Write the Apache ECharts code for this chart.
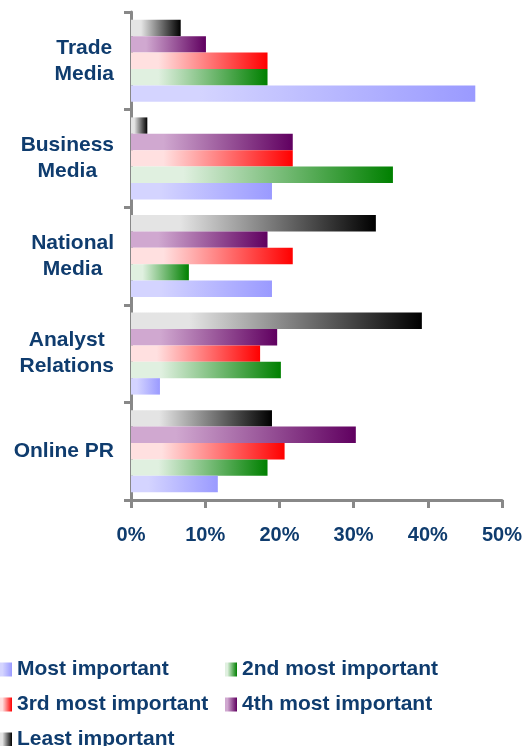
<!DOCTYPE html>
<html lang="en">
<head>
	<meta charset="UTF-8">
	<title>Media importance</title>
	<script src="https://cdn.jsdelivr.net/npm/echarts@6/dist/echarts.min.js"></script>
	<style>
		html, body { margin: 0; padding: 0; background: #fff; }
		#chart { width: 531px; height: 746px; }
	</style>
</head>
<body>
	<div id="chart"></div>
<script>
    // categories, top to bottom
    var categories = ['Trade\nMedia', 'Business\nMedia', 'National\nMedia', 'Analyst\nRelations', 'Online PR'];
    var seriesNames = ['Most important', '2nd most important', '3rd most important', '4th most important', 'Least important'];
    // values in %
    var mostImportant = [46.4, 19.0, 19.0, 3.9, 11.7];
    var secondImportant = [18.4, 35.3, 7.8, 20.2, 18.4];
    var thirdImportant = [18.4, 21.8, 21.8, 17.4, 20.7];
    var fourthImportant = [10.1, 21.8, 18.4, 19.7, 30.3];
    var leastImportant = [6.7, 2.2, 33.0, 39.2, 19.0];
    var xTicks = [0, 10, 20, 30, 40, 50];

    var navy = '#0f3c6e';
    var font = '"Liberation Sans", Arial, sans-serif';

    //gradient from light (left) to dark (right)
    function grad(light, dark) {
        return new echarts.graphic.LinearGradient(0, 0, 1, 0, [
            {offset: 0, color: light},
            {offset: 0.2, color: light},
            {offset: 1, color: dark}
        ]);
    }
    var fills = [
        grad('#d4d4ff', '#9a9aff'),
        grad('#e0f0e0', '#008000'),
        grad('#ffe0e0', '#ff0000'),
        grad('#d0a8d0', '#600060'),
        grad('#e4e4e4', '#000000')
    ];
    var values = [mostImportant, secondImportant, thirdImportant, fourthImportant, leastImportant];

    // with an inverted y axis the first series sits on top, so add least important first
    var series = [];
    for (var i = values.length - 1; i >= 0; i--) {
        series.push({
            name: seriesNames[i],
            type: 'bar',
            data: values[i],
            barGap: '0%',
            barCategoryGap: '16%',
            itemStyle: { color: fills[i] }
        });
    }

    var legendText = { color: navy, fontSize: 21, fontWeight: 'bold', fontFamily: font, lineHeight: 20 };

    var myChart = echarts.init(document.getElementById('chart'));
    var option = {
        animation: false,
        grid: { left: 131, right: 29, top: 12, bottom: 246 },
        legend: [{
            orient: 'vertical',
            left: 0, top: 659, height: 100, padding: 0,
            icon: 'rect', itemWidth: 12, itemHeight: 14, itemGap: 14,
            textStyle: legendText,
            data: [seriesNames[0], seriesNames[2], seriesNames[4]]
        }, {
            orient: 'vertical',
            left: 225, top: 659, height: 100, padding: 0,
            icon: 'rect', itemWidth: 12, itemHeight: 14, itemGap: 14,
            textStyle: legendText,
            data: [seriesNames[1], seriesNames[3]]
        }],
        xAxis: {
            type: 'value',
            min: xTicks[0], max: xTicks[xTicks.length - 1], interval: 10,
            axisLine: { show: true, lineStyle: { color: '#888', width: 3 } },
            axisTick: { show: true, length: 8, lineStyle: { color: '#888', width: 3 } },
            splitLine: { show: false },
            axisLabel: {
                formatter: '{value}%',
                margin: 25,
                color: navy, fontSize: 20, fontWeight: 'bold', fontFamily: font
            }
        },
        yAxis: {
            type: 'category',
            inverse: true,
            data: categories,
            axisLine: { show: true, lineStyle: { color: '#888', width: 3 } },
            axisTick: { show: true, length: 7, lineStyle: { color: '#888', width: 3 } },
            axisLabel: {
                margin: 17,
                lineHeight: 26,
                formatter: function (v) {
                    return v.split('\n').map(function (s) { return '{c|' + s + '}'; }).join('\n');
                },
                rich: {
                    c: { align: 'center', color: navy, fontSize: 21, fontWeight: 'bold', fontFamily: font, lineHeight: 26 }
                }
            }
        },
        series: series
    };
    myChart.setOption(option);
</script>
</body>
</html>
